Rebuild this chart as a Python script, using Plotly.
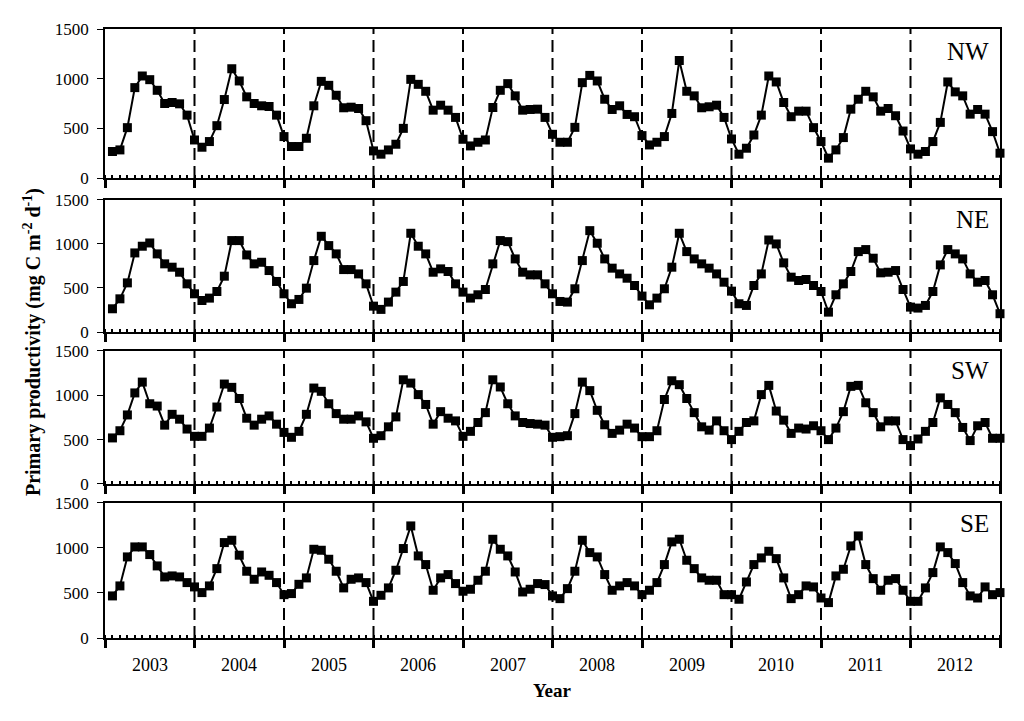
import plotly.graph_objects as go
from plotly.subplots import make_subplots

##################################################################################################################################
# Monthly primary productivity (mg C m-2 d-1) for the four regions, Jan 2003 - Dec 2012
##################################################################################################################################
years   = ['2003', '2004', '2005', '2006', '2007', '2008', '2009', '2010', '2011', '2012']
months  = list(range(1, 121))
regions = ['NW', 'NE', 'SW', 'SE']

nw = [267, 283, 507, 910, 1027, 990, 883, 750, 760, 747, 633, 383,
      310, 367, 527, 790, 1100, 977, 817, 750, 727, 720, 633, 417,
      317, 317, 400, 727, 973, 933, 833, 707, 713, 700, 577, 273,
      240, 283, 340, 500, 993, 943, 873, 683, 733, 683, 610, 390,
      323, 360, 383, 710, 883, 950, 827, 683, 690, 693, 610, 440,
      360, 360, 510, 960, 1033, 977, 793, 690, 727, 640, 617, 427,
      333, 360, 417, 650, 1183, 873, 827, 707, 717, 733, 610, 393,
      240, 300, 433, 633, 1027, 967, 760, 617, 673, 673, 507, 367,
      200, 283, 407, 693, 793, 873, 817, 673, 700, 627, 473, 293,
      240, 267, 367, 560, 967, 867, 827, 643, 690, 643, 467, 250]

ne = [264, 377, 558, 898, 974, 1011, 887, 774, 736, 679, 547, 434,
      358, 385, 460, 634, 1038, 1038, 875, 774, 792, 698, 574, 434,
      321, 370, 498, 811, 1087, 981, 887, 709, 709, 660, 547, 294,
      257, 340, 453, 574, 1121, 974, 887, 679, 717, 687, 547, 453,
      385, 423, 483, 774, 1038, 1026, 830, 679, 649, 649, 547, 434,
      347, 340, 491, 811, 1151, 1008, 830, 725, 660, 611, 528, 408,
      309, 385, 491, 736, 1121, 913, 830, 774, 725, 660, 566, 464,
      321, 302, 528, 660, 1045, 1000, 785, 623, 585, 596, 528, 460,
      226, 423, 547, 687, 913, 936, 838, 672, 679, 698, 483, 283,
      272, 302, 460, 762, 936, 887, 830, 660, 566, 585, 423, 208]

sw = [519, 600, 778, 1026, 1148, 904, 878, 663, 785, 730, 619, 537,
      537, 630, 867, 1126, 1089, 963, 741, 663, 730, 767, 674, 581,
      526, 593, 785, 1081, 1044, 904, 793, 730, 730, 767, 700, 515,
      544, 644, 756, 1174, 1137, 1007, 896, 674, 815, 741, 711, 537,
      593, 693, 804, 1174, 1093, 904, 767, 693, 681, 674, 663, 526,
      533, 544, 793, 1148, 1052, 830, 667, 570, 607, 674, 630, 533,
      533, 600, 952, 1163, 1119, 963, 804, 644, 607, 711, 600, 500,
      593, 693, 711, 1007, 1111, 822, 719, 570, 630, 619, 656, 600,
      500, 630, 815, 1100, 1111, 915, 804, 644, 711, 711, 500, 433,
      507, 593, 693, 970, 896, 804, 637, 489, 656, 693, 515, 515]

se = [467, 578, 900, 1011, 1011, 926, 800, 678, 689, 678, 615, 567,
      504, 578, 770, 1059, 1085, 919, 741, 652, 733, 696, 615, 481,
      493, 596, 667, 985, 974, 874, 741, 556, 652, 667, 615, 407,
      474, 556, 752, 993, 1244, 911, 815, 530, 667, 704, 604, 519,
      541, 641, 741, 1096, 985, 911, 733, 511, 541, 604, 593, 467,
      437, 548, 741, 1085, 948, 900, 704, 530, 578, 615, 578, 481,
      530, 615, 815, 1067, 1096, 863, 770, 667, 641, 641, 481, 481,
      430, 622, 815, 889, 963, 881, 667, 437, 481, 578, 567, 444,
      393, 689, 763, 1022, 1133, 815, 659, 530, 641, 659, 530, 407,
      407, 556, 726, 1011, 948, 826, 615, 467, 444, 567, 481, 504]

series = [nw, ne, sw, se]

# vertical position of each panel (paper fraction)
domains = [[0.7553, 1.0], [0.5024, 0.7194], [0.2529, 0.4715], [0.0, 0.2219]]

serif = 'Liberation Serif'

fig = make_subplots(rows=4, cols=1, shared_xaxes=True, vertical_spacing=0.03)

for i, (name, values) in enumerate(zip(regions, series)):
    row = i + 1
    fig.add_trace(go.Scatter(x=months, y=values, mode='lines+markers', name=name,
                             line=dict(color='black', width=2),
                             marker=dict(symbol='square', size=9, color='black'),
                             cliponaxis=False, showlegend=False), row=row, col=1)

    # dashed separators between years
    for k in range(1, len(years)):
        fig.add_vline(x=12 * k, line=dict(color='black', width=2, dash='12px,6px'),
                      layer='below', row=row, col=1)

    # region label, top right
    fig.add_annotation(text=name, x=0.99, y=0.85, xref='x domain' if row == 1 else f'x{row} domain',
                       yref='y domain' if row == 1 else f'y{row} domain',
                       xanchor='right', yanchor='middle', showarrow=False,
                       font=dict(family=serif, size=25, color='black'))

    fig.update_yaxes(range=[0, 1500], tickvals=[0, 500, 1000, 1500], domain=domains[i],
                     ticks='outside', ticklen=6, tickwidth=1, tickcolor='black',
                     ticklabelstandoff=5,
                     showline=True, linecolor='black', linewidth=1.5, mirror=True,
                     showgrid=False, zeroline=False,
                     tickfont=dict(family=serif, size=17, color='black'), row=row, col=1)

    fig.update_xaxes(range=[0, 120], tickmode='linear', tick0=0, dtick=12,
                     ticks='outside', ticklen=8, tickwidth=3, tickcolor='black',
                     showticklabels=False,
                     minor=dict(ticks='inside', tick0=0, dtick=1, ticklen=3, tickwidth=1.5, tickcolor='black'),
                     showline=True, linecolor='black', linewidth=2, mirror=True,
                     showgrid=False, zeroline=False, row=row, col=1)

# year labels under the bottom panel
for i, yr in enumerate(years):
    fig.add_annotation(text=yr, x=12 * i + 6, y=0, xref='x4', yref='paper',
                       yanchor='middle', yshift=-27, showarrow=False,
                       font=dict(family=serif, size=18, color='black'))

# axis titles
fig.add_annotation(text='<b>Year</b>', x=0.5, y=0, xref='paper', yref='paper',
                   xanchor='center', yanchor='middle', yshift=-52, showarrow=False,
                   font=dict(family=serif, size=19, color='black'))
fig.add_annotation(text='<b>Primary productivity (mg C m<sup>-2</sup> d<sup>-1</sup>)</b>',
                   x=0, y=0.486, xref='paper', yref='paper', xshift=-73,
                   xanchor='center', yanchor='middle', textangle=-90, showarrow=False,
                   font=dict(family=serif, size=20, color='black'))

# page body has an 8px margin, so the figure is a bit smaller than the window
fig.update_layout(width=1016, height=713, margin=dict(l=97, r=24, t=17, b=83),
                  plot_bgcolor='white', paper_bgcolor='white',
                  font=dict(family=serif, size=16, color='black'))

fig.write_html("out.html")
